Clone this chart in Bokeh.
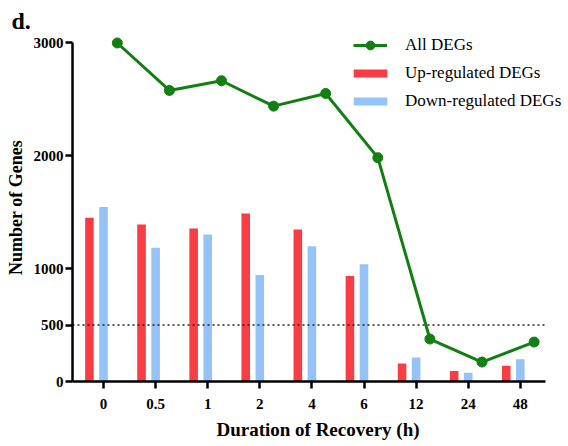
from bokeh.plotting import figure
from bokeh.models import (Range1d, FixedTicker, Legend, LegendItem,
                          ColumnDataSource)
from bokeh.transform import dodge
from bokeh.embed import file_html
from bokeh.resources import INLINE

# ---- data ----
hours = ["0", "0.5", "1", "2", "4", "6", "12", "24", "48"]
all_degs = [2996, 2576, 2662, 2437, 2549, 1981, 376, 172, 349]
up_degs = [1449, 1390, 1355, 1488, 1346, 934, 160, 92, 139]
down_degs = [1544, 1183, 1302, 943, 1198, 1038, 213, 77, 198]
y_ticks = [0, 500, 1000, 2000, 3000]
threshold = 500

RED = "#F83D45"
BLUE = "#96C3F7"
GREEN = "#127F12"
FONT = "Liberation Serif"

X_LO, X_HI = -0.595, 8.484   # axis extent

idx = list(range(len(hours)))
src = ColumnDataSource(dict(x=idx, all=all_degs, up=up_degs, down=down_degs))

p = figure(frame_width=491, frame_height=348, output_backend="svg",
           toolbar_location=None,
           x_range=Range1d(X_LO, 8.829), y_range=Range1d(0, 3080),
           min_border_left=72, min_border_right=0, min_border_top=33,
           min_border_bottom=0)

p.xgrid.visible = False
p.ygrid.visible = False
p.outline_line_color = None
p.background_fill_color = "white"
p.border_fill_color = "white"

r_up = p.vbar(x=dodge("x", -0.27), top="up", width=0.165, source=src,
              fill_color=RED, line_color=None)
r_down = p.vbar(x=dodge("x", 0.0), top="down", width=0.165, source=src,
                fill_color=BLUE, line_color=None)

# dotted threshold line, spanning the x axis extent only
p.segment(x0=[X_LO], x1=[X_HI], y0=[threshold], y1=[threshold],
          line_dash="2 3", line_width=1.3, line_color="#222222")

r_line = p.line(x=dodge("x", 0.265), y="all", source=src, line_width=3,
                line_color=GREEN)
r_pts = p.scatter(x=dodge("x", 0.265), y="all", source=src, size=10,
                  fill_color=GREEN, line_color=GREEN)

# axes
for ax in (p.xaxis[0], p.yaxis[0]):
    ax.axis_line_width = 2.5
    ax.major_tick_line_width = 2.5
    ax.major_tick_out = 7
    ax.major_tick_in = 0
    ax.minor_tick_line_color = None
    ax.major_label_text_font = FONT
    ax.major_label_text_font_style = "bold"
    ax.major_label_text_font_size = "15px"
    ax.major_label_text_color = "black"
    ax.axis_label_text_font = FONT
    ax.axis_label_text_font_style = "bold"
    ax.axis_label_text_color = "black"

p.yaxis.ticker = FixedTicker(ticks=y_ticks)
p.yaxis.bounds = (0, 3000)
p.yaxis.axis_label = "Number of Genes"
p.yaxis.axis_label_text_font_size = "18px"
p.yaxis.major_label_standoff = 2
p.yaxis.axis_label_standoff = 5

p.xaxis.ticker = FixedTicker(ticks=idx)
p.xaxis.bounds = (X_LO, X_HI)
p.xaxis.major_label_overrides = {i: h for i, h in enumerate(hours)}
p.xaxis.axis_label = "Duration of Recovery (h)"
p.xaxis.axis_label_text_font_size = "19px"
p.xaxis.major_label_standoff = 10
p.xaxis.axis_label_standoff = 7

# legends
common = dict(padding=0, margin=0, border_line_color=None,
              background_fill_alpha=0, label_text_font=FONT,
              label_text_font_size="17px", label_text_color="black")
leg1 = Legend(items=[LegendItem(label="All DEGs", renderers=[r_line, r_pts])],
              location=(281, 325), glyph_width=34, glyph_height=22,
              label_height=20, label_standoff=18, **common)
leg2 = Legend(items=[LegendItem(label="Up-regulated DEGs", renderers=[r_up]),
                     LegendItem(label="Down-regulated DEGs", renderers=[r_down])],
              location=(277, 270), glyph_width=42, glyph_height=10,
              label_height=20, spacing=8, label_standoff=14, **common)
p.add_layout(leg1)
p.add_layout(leg2)

# panel letter
p.title.text = "d."
p.title.text_font = FONT
p.title.text_font_style = "bold"
p.title.text_font_size = "24px"
p.title.text_color = "black"
p.title.align = "left"
p.title.offset = -61
p.title.standoff = 0

open("out.html", "w").write(file_html(p, INLINE))
